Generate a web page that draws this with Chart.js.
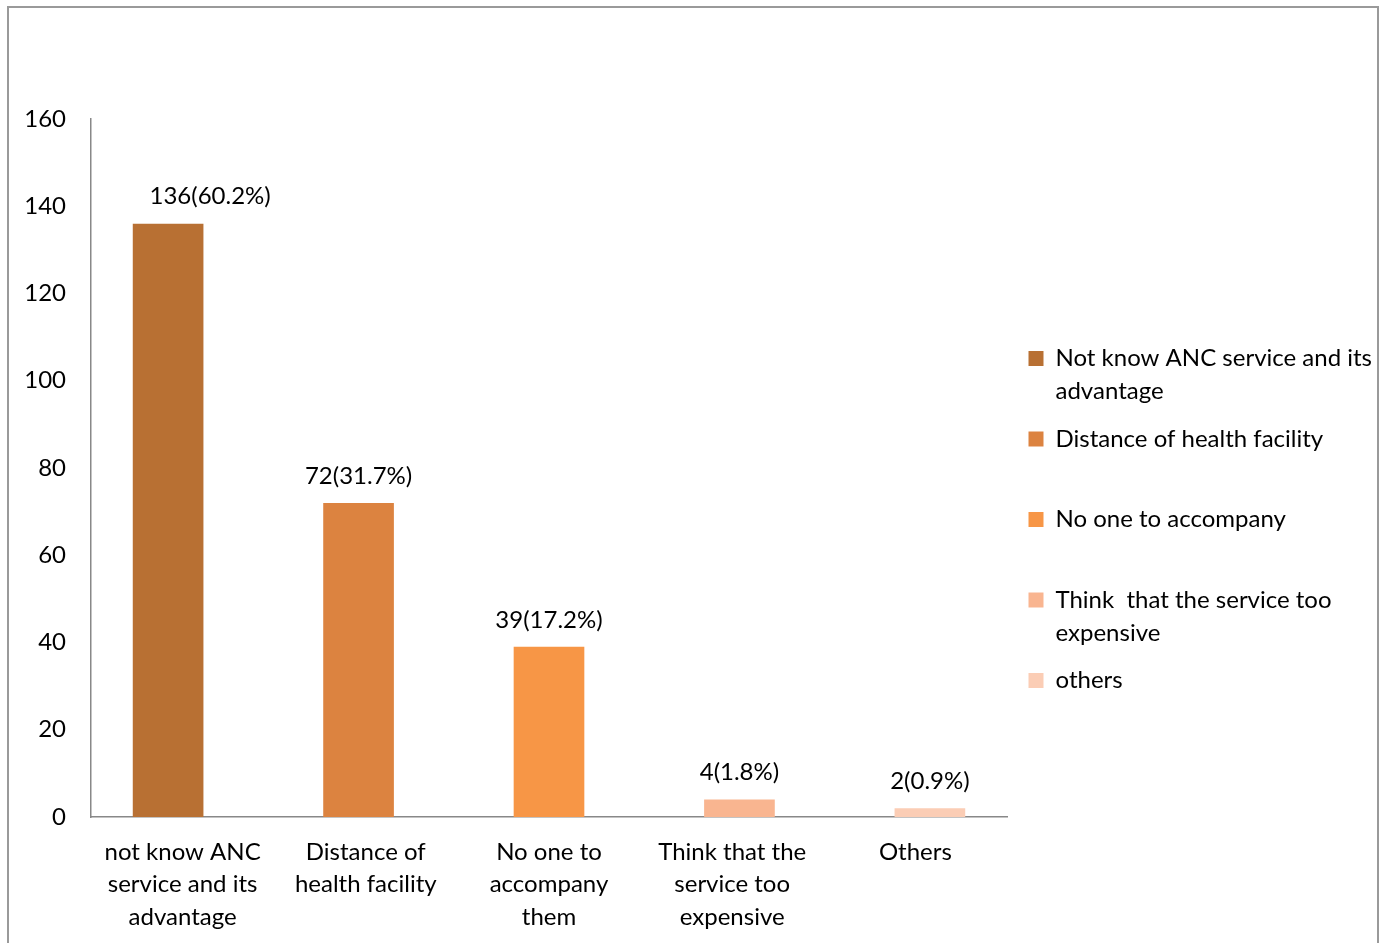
<!DOCTYPE html>
<html><head><meta charset="utf-8">
<script src="https://cdn.jsdelivr.net/npm/chart.js@4/dist/chart.umd.min.js"></script>
<style>
html,body{margin:0;padding:0;background:#fff;}
#wrap{position:relative;width:1384px;height:943px;overflow:hidden;}
#frame{position:absolute;left:7px;top:6px;width:1372px;height:1000px;border:2px solid #9a9a9a;box-sizing:border-box;}
canvas{position:absolute;left:0;top:0;}
</style></head><body>
<div id="wrap"><div id="frame"></div><canvas id="c" width="1384" height="943"></canvas></div>
<script>
const categories = [
  ["not know ANC", "service and its", "advantage"],
  ["Distance of", "health facility"],
  ["No one to", "accompany", "them"],
  ["Think that the", "service too", "expensive"],
  ["Others"]
];
const counts = [136, 72, 39, 4, 2];
const percents = ["60.2", "31.7", "17.2", "1.8", "0.9"];
const legendLabels = [
  ["Not know ANC service and its", "advantage"],
  ["Distance of health facility", ""],
  ["No one to accompany", ""],
  ["Think  that the service too", "expensive"],
  ["others", ""]
];
const barColors = ["#B87033", "#DC8340", "#F79646", "#F9B590", "#FBCDB5"];
const yMin = 0, yMax = 160, yStep = 20;

const FONT = "Lato, 'Open Sans', sans-serif";
const FS = 24;
Chart.defaults.color = "#000";
Chart.defaults.font.family = FONT;

const dataLabelOffsets = [42, 0, 0, 0, 0];

// one series per reason, each holding only its own category's value
const datasets = counts.map((v, i) => ({
  label: legendLabels[i].filter(s => s).join(" "),
  data: counts.map((c, j) => (j === i ? c : null)),
  backgroundColor: barColors[i],
  borderWidth: 0,
  barPercentage: 9.75,
  categoryPercentage: 0.1978
}));

const barLabelPlugin = {
  id: "barLabels",
  afterDatasetsDraw(chart) {
    const ctx = chart.ctx;
    ctx.save();
    ctx.font = FS + "px " + FONT;
    ctx.fillStyle = "#000";
    ctx.textAlign = "center";
    ctx.textBaseline = "middle";
    counts.forEach((c, i) => {
      const bar = chart.getDatasetMeta(i).data[i];
      ctx.fillText(c + "(" + percents[i] + "%)", bar.x + dataLabelOffsets[i], bar.y - 27);
    });
    ctx.restore();
  }
};

const legendPlacePlugin = {
  id: "legendPlace",
  beforeLayout(chart) {
    const lg = chart.legend;
    if (lg && !lg._wrapped) {
      const orig = lg.fit.bind(lg);
      lg.fit = function () { orig(); this.width = 377; };
      lg._wrapped = true;
    }
  },
  afterLayout(chart) {
    const lg = chart.legend;
    if (lg) {
      const w = lg.width;
      lg.left = 1014; lg.right = lg.left + w;
      lg.top = 332;
    }
  }
};

new Chart(document.getElementById("c"), {
  type: "bar",
  data: { labels: categories, datasets: datasets },
  options: {
    responsive: false,
    animation: false,
    layout: { padding: { left: 0, top: 119, right: 0, bottom: 0 } },
    scales: {
      x: {
        grid: { display: false, drawTicks: false },
        border: { display: true, color: "#888888", width: 1.5 },
        ticks: {
          font: { size: FS, lineHeight: "32.5px" },
          padding: 19, autoSkip: false, maxRotation: 0, color: "#000"
        },
        afterFit(s) { s.height = 126; }
      },
      y: {
        min: yMin, max: yMax,
        grid: { display: false, drawTicks: false },
        border: { display: true, color: "#888888", width: 1.5 },
        ticks: { stepSize: yStep, font: { size: FS }, padding: 25, color: "#000" },
        afterFit(s) { s.width = 91; }
      }
    },
    plugins: {
      tooltip: { enabled: false },
      legend: {
        display: true,
        position: "right",
        align: "start",
        labels: {
          boxWidth: 15, boxHeight: 15, padding: 14.5,
          font: { size: FS, lineHeight: "33px" },
          color: "#000",
          generateLabels(chart) {
            return chart.data.datasets.map((ds, i) => ({
              text: legendLabels[i], fillStyle: ds.backgroundColor, strokeStyle: ds.backgroundColor,
              lineWidth: 0, hidden: false, datasetIndex: i
            }));
          }
        }
      }
    }
  },
  plugins: [barLabelPlugin, legendPlacePlugin]
});
</script>
</body></html>
